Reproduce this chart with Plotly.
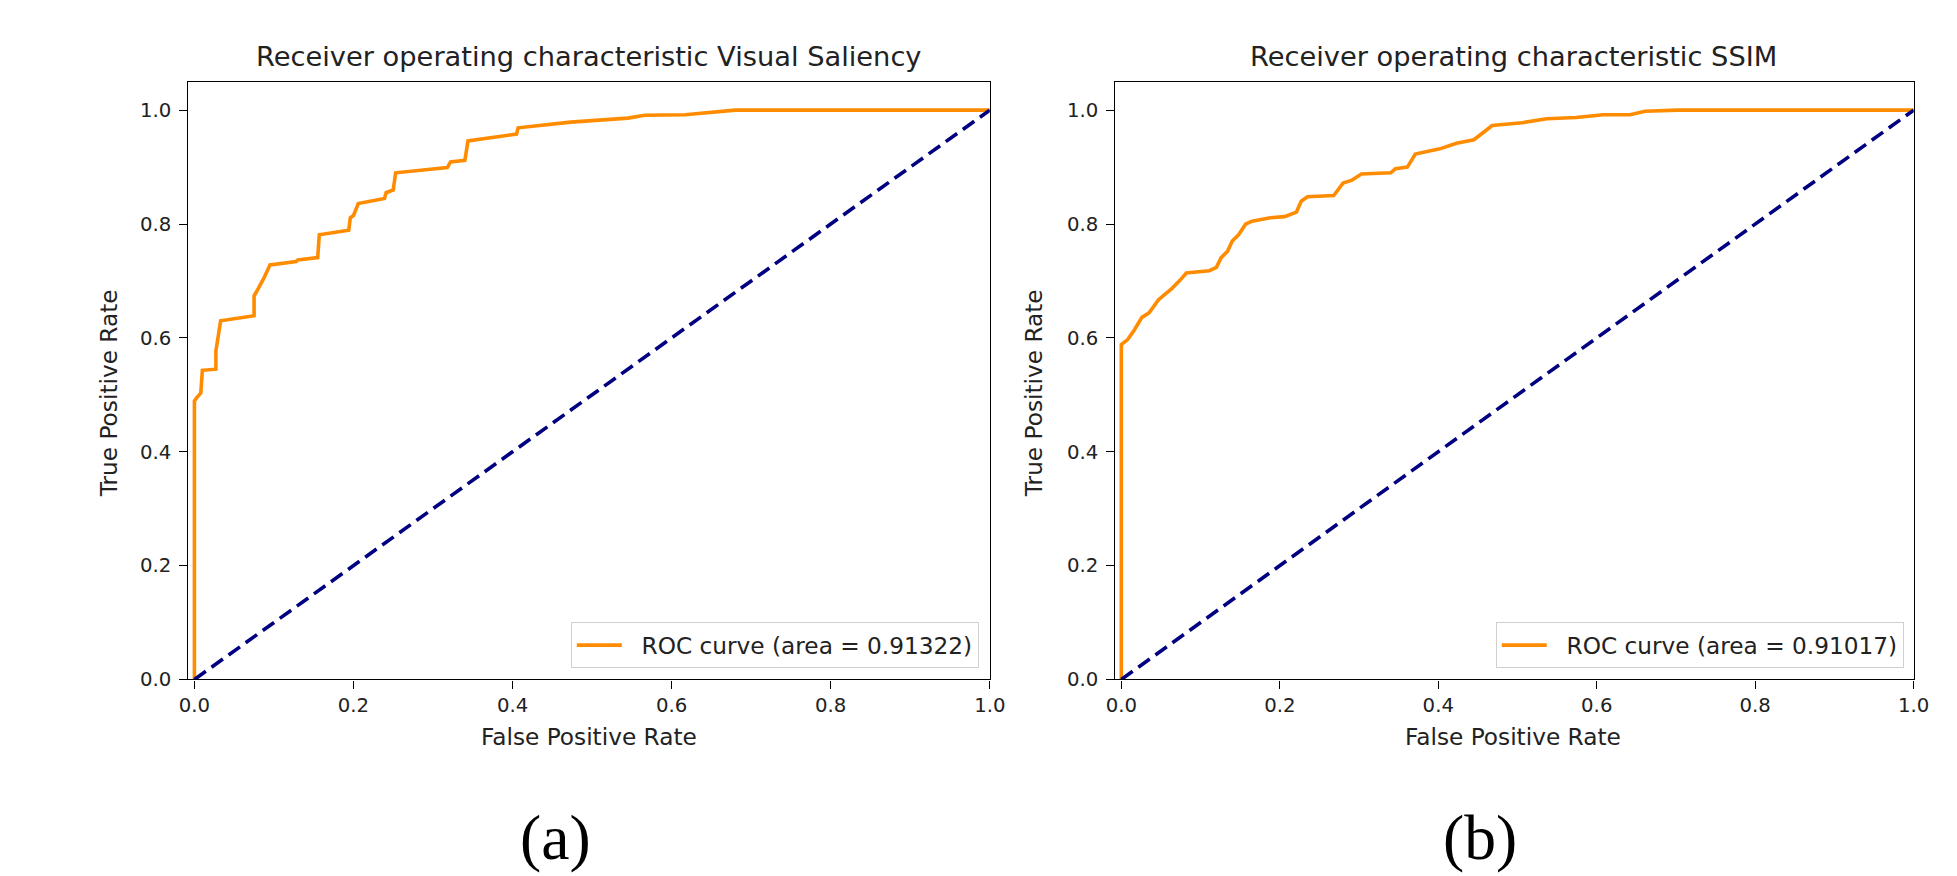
import plotly.graph_objects as go

# ---------------- data ----------------
a_fpr = [0.0, 0.0, 0.003, 0.008, 0.010, 0.027, 0.027, 0.030, 0.033, 0.075, 0.075, 0.078, 0.087,
         0.095, 0.128, 0.130, 0.155, 0.157, 0.194, 0.196, 0.200, 0.206, 0.239, 0.241, 0.250,
         0.253, 0.318, 0.322, 0.340, 0.344, 0.405, 0.407, 0.473, 0.545, 0.566, 0.617, 0.680, 1.0]
a_tpr = [0.0, 0.489, 0.495, 0.503, 0.543, 0.545, 0.577, 0.600, 0.630, 0.639, 0.674, 0.681, 0.704,
         0.728, 0.734, 0.737, 0.741, 0.781, 0.789, 0.811, 0.815, 0.836, 0.845, 0.855, 0.860,
         0.890, 0.899, 0.909, 0.912, 0.946, 0.958, 0.969, 0.979, 0.986, 0.991, 0.992, 1.0, 1.0]

b_fpr = [0.0, 0.0, 0.008, 0.016, 0.026, 0.035, 0.047, 0.064, 0.074, 0.082, 0.111, 0.120, 0.126,
         0.134, 0.140, 0.148, 0.157, 0.165, 0.188, 0.206, 0.221, 0.227, 0.235, 0.268, 0.280,
         0.291, 0.303, 0.340, 0.346, 0.361, 0.371, 0.402, 0.423, 0.445, 0.458, 0.468, 0.506,
         0.537, 0.574, 0.608, 0.642, 0.661, 0.702, 1.0]
b_tpr = [0.0, 0.588, 0.597, 0.613, 0.636, 0.644, 0.667, 0.687, 0.701, 0.714, 0.718, 0.724, 0.741,
         0.752, 0.770, 0.781, 0.800, 0.805, 0.811, 0.813, 0.821, 0.840, 0.848, 0.850, 0.872,
         0.877, 0.888, 0.890, 0.897, 0.900, 0.923, 0.932, 0.942, 0.948, 0.962, 0.973, 0.978,
         0.985, 0.987, 0.992, 0.992, 0.998, 1.0, 1.0]

chance = [0.0, 1.0]
auc_a = "0.91322"
auc_b = "0.91017"
titles = ["Receiver operating characteristic Visual Saliency",
          "Receiver operating characteristic SSIM"]
panel_labels = ["(a)", "(b)"]
tick_vals = [0.0, 0.2, 0.4, 0.6, 0.8, 1.0]
tick_text = ["0.0", "0.2", "0.4", "0.6", "0.8", "1.0"]

# ---------------- figure ----------------
W, H = 1957, 876
K = 1.0101  # compensates the slight shrink seen in the capture
DX = -5     # small horizontal correction
ORANGE = "#FF8C00"
NAVY = "#000080"
TXT = "#222222"
FONT = "DejaVu Sans"


def px_x(p):
    return (p * K + DX) / W


def px_y(p):
    return 1 - p * K / H


def fs(s):
    return round(s * K, 2)


fig = go.Figure()

fig.add_trace(go.Scatter(x=a_fpr, y=a_tpr, mode="lines", xaxis="x", yaxis="y",
                         line=dict(color=ORANGE, width=3.6),
                         name="\u00a0\u00a0ROC curve (area = " + auc_a + ")", legend="legend"))
fig.add_trace(go.Scatter(x=chance, y=chance, mode="lines", xaxis="x", yaxis="y",
                         line=dict(color=NAVY, width=3.6, dash="14px,7px"),
                         showlegend=False))
fig.add_trace(go.Scatter(x=b_fpr, y=b_tpr, mode="lines", xaxis="x2", yaxis="y2",
                         line=dict(color=ORANGE, width=3.6),
                         name="\u00a0\u00a0ROC curve (area = " + auc_b + ")", legend="legend2"))
fig.add_trace(go.Scatter(x=chance, y=chance, mode="lines", xaxis="x2", yaxis="y2",
                         line=dict(color=NAVY, width=3.6, dash="14px,7px"),
                         showlegend=False))

axis_common = dict(showline=True, mirror=True, linecolor="black", linewidth=1.3,
                   ticks="outside", ticklen=8, tickwidth=1.3, tickcolor="black",
                   showgrid=False, zeroline=False, tickvals=tick_vals, ticktext=tick_text,
                   tickfont=dict(family=FONT, size=fs(19.5), color=TXT))

ydom = [px_y(682), px_y(82)]
legend_common = dict(xanchor="right", yanchor="bottom", bgcolor="white",
                     bordercolor="#d0d0d0", borderwidth=1,
                     font=dict(family=FONT, size=fs(23), color=TXT), itemwidth=45)
fig.update_layout(
    width=W, height=H,
    margin=dict(l=0, r=0, t=0, b=0),
    paper_bgcolor="white", plot_bgcolor="white",
    xaxis=dict(domain=[px_x(184), px_x(988)], range=[-0.0075, 1.0], anchor="y", **axis_common),
    yaxis=dict(domain=ydom, range=[0, 1.05], anchor="x", ticklabelstandoff=4, **axis_common),
    xaxis2=dict(domain=[px_x(1114), px_x(1915)], range=[-0.0075, 1.0], anchor="y2", **axis_common),
    yaxis2=dict(domain=ydom, range=[0, 1.05], anchor="x2", ticklabelstandoff=4, **axis_common),
    legend=dict(x=px_x(977), y=px_y(671), **legend_common),
    legend2=dict(x=px_x(1905), y=px_y(671), **legend_common),
    showlegend=True,
)

centers = [586, 1513]
ylab_x = [104, 1032]
label_x = [552, 1480]
for i in range(2):
    fig.add_annotation(text=titles[i], x=px_x(centers[i]), y=px_y(57), xref="paper", yref="paper",
                       xanchor="center", yanchor="middle", showarrow=False,
                       font=dict(family=FONT, size=fs(27), color=TXT))
    fig.add_annotation(text="False Positive Rate", x=px_x(centers[i]), y=px_y(739),
                       xref="paper", yref="paper", xanchor="center", yanchor="middle",
                       showarrow=False, font=dict(family=FONT, size=fs(23), color=TXT))
    fig.add_annotation(text="True Positive Rate", x=px_x(ylab_x[i]), y=px_y(395),
                       xref="paper", yref="paper", xanchor="center", yanchor="middle",
                       textangle=-90, showarrow=False,
                       font=dict(family=FONT, size=fs(23), color=TXT))
    fig.add_annotation(text=panel_labels[i], x=px_x(label_x[i]), y=px_y(841),
                       xref="paper", yref="paper", xanchor="center", yanchor="middle",
                       showarrow=False, font=dict(family="Liberation Serif", size=fs(63), color="black"))

fig.write_html(
    "out.html",
    config={"displayModeBar": False},
    post_script=("document.documentElement.style.margin='0';"
                 "document.body.style.margin='0';"
                 "document.documentElement.style.overflow='hidden';"
                 "document.body.style.overflow='hidden';"),
)
